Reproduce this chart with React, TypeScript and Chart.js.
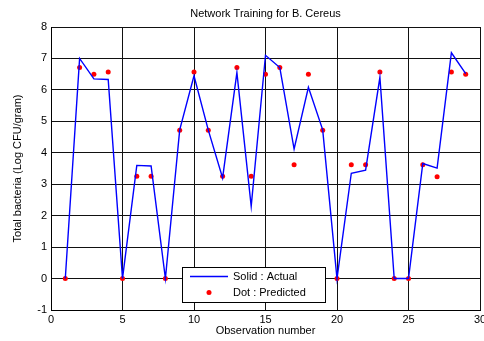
import React, { useEffect, useRef } from "react";
import { Chart, registerables } from "chart.js";

Chart.register(...registerables);

const observations = [1,2,3,4,5,6,7,8,9,10,11,12,13,14,15,16,17,18,19,20,21,22,23,24,25,26,27,28,29];
const actual = [0,7.0,6.35,6.33,0,3.6,3.58,0,4.73,6.45,4.72,3.2,6.55,2.3,7.1,6.71,4.12,6.08,4.73,0,3.35,3.45,6.4,0,0,3.66,3.51,7.18,6.52];
const predicted = [0,6.71,6.5,6.57,0,3.25,3.25,0,4.72,6.57,4.72,3.25,6.71,3.25,6.5,6.71,3.62,6.5,4.72,0,3.62,3.62,6.57,0,0,3.62,3.24,6.57,6.5];
const xTicks = [0,5,10,15,20,25,30];
const yTicks = [-1,0,1,2,3,4,5,6,7,8];
const titleText = "Network Training for B. Cereus";
const xTitle = "Observation number";
const yTitle = "Total bacteria (Log CFU/gram)";
const legendLabels = ["Solid : Actual", "Dot : Predicted"];

const FONT = "11px 'Liberation Sans', Arial, sans-serif";

const decor = {
  id: "decor",
  afterDraw(chart: any) {
    const ctx = chart.ctx;
    const a = chart.chartArea;
    ctx.save();
    ctx.fillStyle = "#000";
    ctx.font = FONT;
    ctx.textAlign = "center";
    ctx.textBaseline = "middle";
    const cx = (a.left + a.right) / 2;
    ctx.fillText(titleText, cx, 14);
    ctx.fillText(xTitle, cx, 331);
    ctx.save();
    ctx.translate(18, (a.top + a.bottom) / 2);
    ctx.rotate(-Math.PI / 2);
    ctx.fillText(yTitle, 0, 0);
    ctx.restore();
    // legend box
    const bx = 182, by = 267, bw = 143, bh = 35;
    ctx.fillStyle = "#fff";
    ctx.fillRect(bx, by, bw, bh);
    ctx.strokeStyle = "#000";
    ctx.lineWidth = 1;
    ctx.strokeRect(bx + 0.5, by + 0.5, bw, bh);
    ctx.strokeStyle = "#0000ff";
    ctx.lineWidth = 1.4;
    ctx.beginPath();
    ctx.moveTo(190, 276.5);
    ctx.lineTo(228, 276.5);
    ctx.stroke();
    ctx.fillStyle = "#ff0000";
    ctx.beginPath();
    ctx.arc(209, 292.5, 2.5, 0, Math.PI * 2);
    ctx.fill();
    ctx.fillStyle = "#000";
    ctx.textAlign = "left";
    ctx.fillText(legendLabels[0], 233, 277);
    ctx.fillText(legendLabels[1], 233, 293);
    ctx.restore();
  },
};

export default function App() {
  const ref = useRef<HTMLCanvasElement>(null);
  useEffect(() => {
    const chart = new Chart(ref.current as HTMLCanvasElement, {
      type: "scatter",
      data: {
        datasets: [
          {
            label: "Actual",
            data: observations.map((x, i) => ({ x, y: actual[i] })),
            showLine: true,
            borderColor: "#0000ff",
            borderWidth: 1.4,
            pointRadius: 0,
            tension: 0,
          },
          {
            label: "Predicted",
            data: observations.map((x, i) => ({ x, y: predicted[i] })),
            showLine: false,
            backgroundColor: "#ff0000",
            borderColor: "#ff0000",
            pointRadius: 2.5,
            borderWidth: 0,
          },
        ],
      },
      options: {
        animation: false,
        responsive: false,
        layout: { padding: { left: 0, right: 4, top: 27, bottom: 0 } },
        plugins: { legend: { display: false }, title: { display: false }, tooltip: { enabled: false } },
        scales: {
          x: {
            type: "linear",
            min: 0,
            max: 30,
            afterBuildTicks: (s: any) => { s.ticks = xTicks.map((v) => ({ value: v })); },
            afterFit: (s: any) => { s.height = 31; s.paddingLeft = 0; s.paddingRight = 0; },
            ticks: { color: "#000", font: { family: "'Liberation Sans', Arial, sans-serif", size: 11 }, padding: 3, maxRotation: 0, autoSkip: false },
            grid: { color: "#111", lineWidth: 1, drawTicks: false },
            border: { color: "#000", width: 1 },
          },
          y: {
            type: "linear",
            min: -1,
            max: 8,
            afterBuildTicks: (s: any) => { s.ticks = yTicks.map((v) => ({ value: v })); },
            afterFit: (s: any) => { s.width = 51; s.paddingTop = 0; s.paddingBottom = 0; },
            ticks: { color: "#000", font: { family: "'Liberation Sans', Arial, sans-serif", size: 11 }, padding: 4, autoSkip: false },
            grid: { color: "#111", lineWidth: 1, drawTicks: false },
            border: { color: "#000", width: 1 },
          },
        },
      },
      plugins: [decor],
    } as any);
    return () => chart.destroy();
  }, []);
  return (
    <div style={{ position: "fixed", left: 0, top: 0, width: 484, height: 341, background: "#fff" }}>
      <canvas ref={ref} width={484} height={341} style={{ width: 484, height: 341, display: "block" }} />
    </div>
  );
}
